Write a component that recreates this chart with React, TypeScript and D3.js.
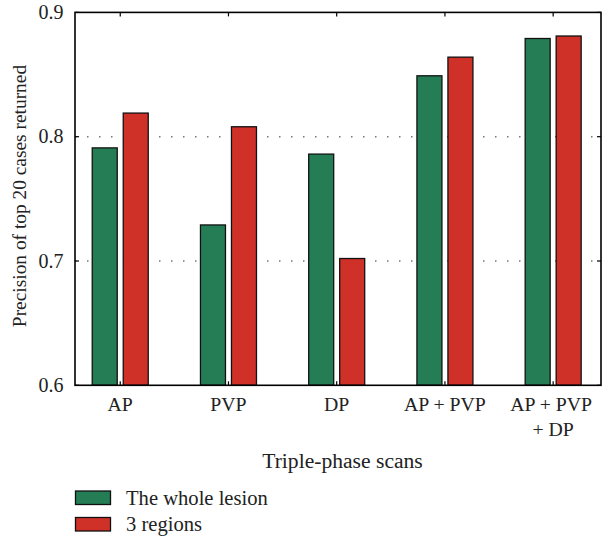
import React from "react";
import * as d3 from "d3";

const categories = ["AP", "PVP", "DP", "AP + PVP", "AP + PVP|+ DP"];
const wholeLesion = [0.791, 0.729, 0.786, 0.849, 0.879];
const threeRegions = [0.819, 0.808, 0.702, 0.864, 0.881];
const yTicks = [0.6, 0.7, 0.8, 0.9];
const seriesNames = ["The whole lesion", "3 regions"];
const seriesColors = ["#257d55", "#cf3129"];

const W = 603;
const H = 537;
const left = 75;
const right = 601;
const top = 12.4;
const bottom = 385.3;
const FONT = "'Liberation Serif', 'Times New Roman', serif";

export default function App() {
  const x = d3.scaleLinear().domain([-0.418, 4.442]).range([left, right]);
  const y = d3.scaleLinear().domain([0.6, 0.9]).range([bottom, top]);
  const barW = 25;
  const gap = 3;
  const series = [wholeLesion, threeRegions];

  return (
    <svg
      width={W}
      height={H}
      style={{ position: "absolute", left: 0, top: 0, background: "#fff" }}
      fontFamily={FONT}
    >
      {/* gridlines */}
      {yTicks
        .filter((t) => t > 0.6 && t < 0.9)
        .map((t) => (
          <line
            key={"g" + t}
            x1={left}
            x2={right}
            y1={y(t)}
            y2={y(t)}
            stroke="#777"
            strokeWidth={1.5}
            strokeDasharray="1.5 10.5"
          />
        ))}
      {/* bars */}
      {categories.map((c, i) =>
        series.map((s, k) => {
          const cx = x(i);
          const bx = k === 0 ? cx - gap - barW : cx + gap;
          return (
            <rect
              key={c + k}
              x={bx}
              y={y(s[i])}
              width={barW}
              height={bottom - y(s[i])}
              fill={seriesColors[k]}
              stroke="#111"
              strokeWidth={1.3}
            />
          );
        })
      )}
      {/* frame */}
      <rect
        x={left}
        y={top}
        width={right - left}
        height={bottom - top}
        fill="none"
        stroke="#000"
        strokeWidth={1.6}
      />
      {/* y ticks */}
      {yTicks.map((t) => (
        <g key={"y" + t}>
          <line x1={left} x2={left + 4} y1={y(t)} y2={y(t)} stroke="#000" strokeWidth={1.2} />
          <line x1={right - 4} x2={right} y1={y(t)} y2={y(t)} stroke="#000" strokeWidth={1.2} />
          <text x={63.5} y={y(t) + 6.5} textAnchor="end" fontSize={20} fill="#222">
            {t.toFixed(1)}
          </text>
        </g>
      ))}
      {/* x ticks + labels */}
      {categories.map((c, i) => (
        <g key={"x" + c}>
          <line x1={x(i)} x2={x(i)} y1={bottom} y2={bottom - 4} stroke="#000" strokeWidth={1.2} />
          <line x1={x(i)} x2={x(i)} y1={top} y2={top + 4} stroke="#000" strokeWidth={1.2} />
          {c.split("|").map((line, j) => (
            <text
              key={j}
              x={i === 4 && j === 0 ? x(i) - 2 : x(i)}
              y={410.5 + j * 25}
              textAnchor="middle"
              fontSize={19.8}
              fill="#222"
            >
              {line}
            </text>
          ))}
        </g>
      ))}
      {/* axis titles */}
      <text x={342.5} y={467.5} textAnchor="middle" fontSize={21.6} fill="#222">
        Triple-phase scans
      </text>
      <text
        transform={`translate(25.5, 196) rotate(-90)`}
        textAnchor="middle"
        fontSize={19.4}
        fill="#222"
      >
        Precision of top 20 cases returned
      </text>
      {/* legend */}
      {seriesNames.map((n, k) => (
        <g key={n}>
          <rect
            x={75.5}
            y={491 + k * 26.5}
            width={35}
            height={13.5}
            fill={seriesColors[k]}
            stroke="#111"
            strokeWidth={1.3}
          />
          <text x={126} y={504.5 + k * 26.5} fontSize={20.6} fill="#222">
            {n}
          </text>
        </g>
      ))}
    </svg>
  );
}
